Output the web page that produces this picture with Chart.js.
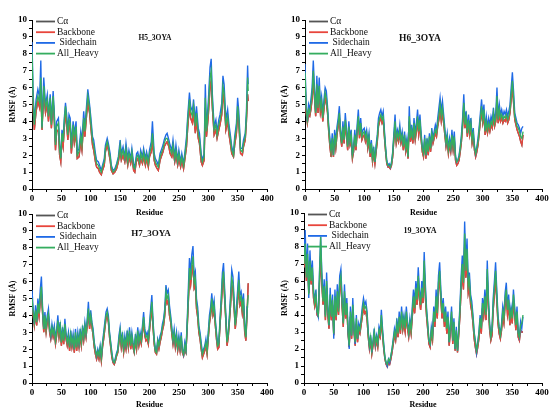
<!DOCTYPE html>
<html lang="en">
<head>
<meta charset="UTF-8">
<title>RMSF per residue</title>
<script src="https://cdn.jsdelivr.net/npm/chart.js"></script>
<style>
  html, body { margin: 0; padding: 0; background: #fff; overflow: hidden; }
  #page { position: relative; width: 550px; height: 408px; }
  #page canvas { position: absolute; }
</style>
</head>
<body>
<div id="page">
  <canvas id="h5" width="275" height="222" style="left:0;top:0"></canvas>
  <canvas id="h6" width="275" height="222" style="left:275px;top:0"></canvas>
  <canvas id="h7" width="275" height="212" style="left:0;top:200px"></canvas>
  <canvas id="p19" width="275" height="212" style="left:275px;top:200px"></canvas>
</div>
<script>
// series names, legend order
const seriesLabels = ['Cα', 'Backbone', ' Sidechain', 'All_Heavy'];
const panelNames = ['H5_3OYA', 'H6_3OYA', 'H7_3OYA', '19_3OYA'];
const xTicks = [0, 50, 100, 150, 200, 250, 300, 350, 400];
const yTicks = [0, 1, 2, 3, 4, 5, 6, 7, 8, 9, 10];

// H5 panel, read at peaks / troughs
const h5Residue = [0,2,4,7,10,13,15,17,20,23, 26,28,31,33,36,38,40,42,45,47, 49,51,53,55,57,59,61,63,65,67,
  70,72,75,77,80,83,85,88,90,93, 95,98,100,103,105,108,110,113,115,118, 120,123,125,128,130,133,135,138,141,144,
  147,150,152,155,158,160,163,165,168,170, 173,175,178,180,183,185,188,190,193,195, 198,200,203,205,208,210,213,215,218,220,
  223,225,228,230,233,235,238,240,243,245, 248,250,253,255,258,260,263,265,268,270, 273,275,278,280,283,285,288,290,293,295,
  297,300,303,305,307,310,313,315,318,320, 323,325,327,330,333,335,338,340,343,345, 348,350,352,355,358,360,363,365,367,368];
const h5Sidechain = [8.7,5.6,4.0,5.3,5.9,5.4,7.6,3.7,6.6,5.0, 5.6,4.4,5.6,4.0,5.8,4.5,2.8,4.0,4.2,2.6, 1.9,3.5,3.0,4.2,5.1,4.4,3.4,4.4,4.2,2.6,
  4.0,3.3,4.0,2.2,2.4,3.4,2.8,4.6,3.6,5.0, 5.9,5.0,4.3,3.1,2.9,2.1,1.7,1.6,1.4,1.1, 1.4,1.8,2.6,3.0,2.7,2.1,1.4,1.1,1.2,1.5,
  1.9,2.9,2.1,2.5,1.9,2.7,1.8,2.3,1.8,2.4, 1.5,1.3,2.1,2.2,1.7,2.3,1.9,2.4,1.8,2.2, 1.7,2.3,2.8,4.0,2.1,1.8,1.6,1.4,2.1,2.3,
  2.6,2.9,3.2,3.3,2.9,2.6,2.3,2.9,1.9,2.6, 1.7,2.3,1.6,2.1,1.5,2.1,3.1,4.3,5.7,4.9, 4.6,5.3,4.0,4.9,3.6,3.3,2.1,1.7,2.1,6.2,
  3.6,5.1,7.2,7.7,5.6,3.7,4.1,3.4,4.1,4.4, 5.1,6.7,6.2,4.1,4.7,3.9,3.1,2.5,2.1,3.1, 3.9,5.4,4.6,2.4,2.4,2.9,3.3,4.6,7.3,6.2];
const h5Heavy = [8.1,5.2,3.8,5.0,5.5,5.1,6.6,3.6,6.1,4.8, 5.3,4.3,5.4,3.8,5.5,4.3,2.6,3.7,3.9,2.4, 1.8,3.3,2.8,4.0,4.9,4.1,3.2,4.1,3.9,2.4,
  3.8,3.0,3.7,2.0,2.2,3.1,2.6,4.2,3.4,4.7, 5.5,4.8,4.0,2.9,2.6,1.9,1.5,1.4,1.2,1.0, 1.3,1.6,2.4,2.8,2.5,1.9,1.3,1.0,1.1,1.4,
  1.8,2.6,1.9,2.3,1.8,2.4,1.6,2.1,1.7,2.2, 1.3,1.2,1.9,2.0,1.6,2.1,1.7,2.2,1.6,2.0, 1.5,2.1,2.5,3.3,1.9,1.6,1.4,1.3,1.9,2.1,
  2.4,2.7,3.0,3.0,2.7,2.4,2.1,2.6,1.8,2.3, 1.6,2.1,1.5,1.9,1.4,1.9,2.8,4.0,5.3,4.6, 4.3,4.9,3.7,4.5,3.3,3.0,1.9,1.6,1.9,5.4,
  3.4,4.7,6.6,7.0,5.2,3.5,3.8,3.2,3.8,4.1, 4.7,6.1,5.7,3.8,4.3,3.6,2.9,2.3,2.0,2.9, 3.6,4.9,4.2,2.3,2.2,2.7,3.1,4.3,6.6,5.8];
const h5Backbone = [6.4,4.8,3.5,4.6,5.2,4.8,6.0,3.5,5.7,4.5, 5.0,4.0,5.1,3.6,5.2,4.0,2.3,3.4,3.5,2.0, 1.6,3.0,2.5,3.6,4.6,3.8,2.9,3.8,3.6,2.1,
  3.4,2.7,3.3,1.8,1.9,2.8,2.3,3.9,3.1,4.4, 5.1,4.5,3.7,2.6,2.3,1.6,1.3,1.2,1.0,0.85, 1.1,1.4,2.2,2.6,2.3,1.7,1.1,0.9,1.0,1.2,
  1.6,2.3,1.7,2.0,1.6,2.1,1.4,1.9,1.5,1.9, 1.1,1.0,1.7,1.8,1.4,1.8,1.5,1.9,1.4,1.8, 1.3,1.9,2.2,2.8,1.7,1.4,1.2,1.1,1.7,1.9,
  2.2,2.5,2.7,2.8,2.5,2.1,1.9,2.3,1.6,2.0, 1.4,1.8,1.3,1.7,1.2,1.7,2.5,3.6,4.9,4.2, 3.9,4.5,3.3,4.1,3.0,2.7,1.6,1.4,1.7,4.8,
  3.1,4.3,6.0,6.4,4.8,3.2,3.5,3.0,3.5,3.8, 4.4,5.6,5.2,3.5,4.0,3.3,2.6,2.1,1.9,2.6, 3.3,4.5,3.9,2.1,2.0,2.5,2.9,4.0,5.6,5.2];
// the Cα trace lies under the backbone trace everywhere in the figure
const h5CAlpha = h5Backbone;

// H6, H7 and 19 panels read every second residue
const residueEven = [0,2,4,6,8,10,12,14,16,18, 20,22,24,26,28,30,32,34,36,38, 40,42,44,46,48,50,52,54,56,58,
  60,62,64,66,68,70,72,74,76,78, 80,82,84,86,88,90,92,94,96,98, 100,102,104,106,108,110,112,114,116,118,
  120,122,124,126,128,130,132,134,136,138, 140,142,144,146,148,150,152,154,156,158, 160,162,164,166,168,170,172,174,176,178,
  180,182,184,186,188,190,192,194,196,198, 200,202,204,206,208,210,212,214,216,218, 220,222,224,226,228,230,232,234,236,238,
  240,242,244,246,248,250,252,254,256,258, 260,262,264,266,268,270,272,274,276,278, 280,282,284,286,288,290,292,294,296,298,
  300,302,304,306,308,310,312,314,316,318, 320,322,324,326,328,330,332,334,336,338, 340,342,344,346,348,350,352,354,356,358,
  360,362,364,366,368];

const h6Sidechain = [7.4,5.0,4.0,5.0,4.7,5.3,6.0,7.6,6.0,4.6, 6.7,5.0,6.6,5.0,5.5,4.4,5.3,6.0,5.8,4.9, 3.8,3.0,2.3,3.3,2.0,3.5,2.8,3.7,4.2,4.9,
  3.5,2.8,4.0,3.0,4.5,3.6,2.6,4.0,3.0,3.5, 2.0,2.5,3.5,2.6,3.8,4.7,3.4,4.2,3.3,3.5, 3.6,3.2,3.5,2.8,3.3,2.2,2.9,1.9,2.5,1.6,
  2.6,3.2,4.2,4.5,4.7,4.3,4.6,3.5,2.5,1.7, 1.4,1.5,1.3,1.6,2.2,3.3,4.4,3.0,3.5,3.2, 3.8,3.0,3.4,2.6,3.4,2.5,3.0,2.0,4.9,3.1,
  3.8,3.0,4.2,3.3,3.9,4.7,3.6,4.4,3.3,2.5, 2.2,3.2,2.0,3.0,2.3,3.3,2.5,3.6,3.0,3.4, 3.8,3.5,4.2,4.8,5.4,4.6,5.2,4.4,3.6,2.8,
  3.3,2.4,3.0,2.5,3.5,2.6,3.4,2.0,1.6,1.7, 2.0,2.5,3.2,4.2,5.6,4.0,4.6,3.5,4.4,3.6, 4.2,3.0,3.6,2.6,2.1,2.5,3.0,3.7,4.5,5.3,
  4.3,5.0,3.5,4.3,3.7,4.2,3.8,4.3,4.0,4.8, 4.1,4.5,6.0,4.3,5.0,4.4,4.7,4.3,4.6,4.4, 4.7,4.3,4.6,5.0,6.0,6.9,5.8,4.5,4.2,3.9,
  3.8,3.6,3.3,3.6,3.7];
const h6Heavy = [6.9,4.8,4.1,4.7,4.5,5.0,5.6,7.0,5.7,4.5, 6.2,4.8,6.1,4.8,5.2,4.2,5.0,5.7,5.4,4.7, 3.6,2.8,2.2,3.0,2.0,3.2,2.6,3.4,3.9,4.5,
  3.3,2.7,3.7,2.9,4.1,3.4,2.5,3.7,2.8,3.2, 2.0,2.4,3.2,2.5,3.5,4.3,3.2,3.9,3.1,3.3, 3.4,3.0,3.3,2.6,3.1,2.1,2.7,1.8,2.3,1.6,
  2.4,3.0,3.9,4.2,4.4,4.1,4.3,3.3,2.4,1.6, 1.4,1.4,1.3,1.5,2.1,3.1,4.0,2.9,3.3,3.0, 3.5,2.9,3.2,2.5,3.2,2.4,2.8,1.9,4.3,3.0,
  3.5,2.9,3.9,3.1,3.6,4.3,3.4,4.1,3.1,2.4, 2.1,3.0,2.0,2.8,2.2,3.1,2.4,3.3,2.9,3.2, 3.5,3.3,3.9,4.4,5.0,4.3,4.8,4.1,3.4,2.7,
  3.1,2.3,2.8,2.4,3.2,2.5,3.1,1.9,1.6,1.7, 1.9,2.4,3.0,3.9,5.1,3.8,4.3,3.3,4.1,3.4, 3.9,2.9,3.3,2.5,2.1,2.4,2.8,3.5,4.2,4.9,
  4.1,4.7,3.4,4.0,3.5,3.9,3.6,4.0,3.8,4.5, 3.9,4.2,5.5,4.1,4.7,4.2,4.4,4.1,4.3,4.2, 4.4,4.1,4.3,4.7,5.6,6.4,5.4,4.3,4.0,3.7,
  3.6,3.4,3.1,3.0,3.4];
const h6Backbone = [6.3,4.5,3.9,4.4,4.3,4.7,5.3,6.5,5.4,4.3, 5.8,4.5,5.7,4.5,4.9,4.0,4.7,5.4,5.1,4.5, 3.4,2.5,1.9,2.8,1.9,3.0,2.4,3.2,3.7,4.2,
  3.1,2.5,3.5,2.7,3.8,3.2,2.3,3.4,2.6,2.9, 1.8,2.2,3.0,2.3,3.3,4.0,3.0,3.7,2.9,3.1, 3.2,2.8,3.1,2.4,2.9,1.9,2.5,1.6,2.1,1.5,
  2.2,2.8,3.7,4.0,4.2,3.9,4.1,3.1,2.2,1.5, 1.3,1.3,1.2,1.4,1.9,2.9,3.7,2.7,3.1,2.8, 3.3,2.7,3.0,2.3,3.0,2.2,2.6,1.8,4.0,2.8,
  3.3,2.7,3.6,2.9,3.4,4.0,3.2,3.8,2.9,2.2, 1.9,2.8,1.8,2.6,2.0,2.9,2.2,3.1,2.7,3.0, 3.3,3.1,3.7,4.1,4.7,4.0,4.5,3.9,3.2,2.5,
  2.9,2.1,2.6,2.2,3.0,2.3,2.9,1.7,1.4,1.5, 1.7,2.2,2.8,3.7,4.8,3.6,4.1,3.1,3.9,3.2, 3.7,2.7,3.1,2.3,1.9,2.2,2.6,3.3,4.0,4.6,
  3.9,4.4,3.2,3.8,3.3,3.7,3.4,3.8,3.6,4.2, 3.7,4.0,5.2,3.9,4.4,4.0,4.2,3.9,4.1,4.0, 4.2,3.9,4.1,4.5,5.3,6.0,5.1,4.1,3.8,3.5,
  3.3,3.1,2.8,2.6,3.2];
const h6CAlpha = h6Backbone;

const h7Sidechain = [5.5,4.4,3.5,4.6,3.7,5.0,4.3,5.5,6.3,4.5, 3.2,4.2,3.3,4.0,4.4,3.3,2.8,3.5,3.0,3.4, 2.6,3.2,4.0,3.0,3.6,2.5,3.3,2.6,3.8,2.9,
  2.5,3.0,2.2,3.1,2.4,2.9,2.0,3.2,2.2,3.0, 2.4,3.2,2.5,3.4,2.8,3.6,3.0,3.8,4.8,3.5, 4.3,3.6,3.2,2.4,2.0,1.6,2.0,1.7,2.2,1.5,
  2.4,3.0,3.6,4.2,4.4,4.0,3.0,2.4,1.8,1.3, 1.2,1.5,1.8,2.0,2.8,3.3,2.4,3.0,2.0,2.8, 2.3,3.1,2.4,3.3,2.3,3.0,2.4,2.0,2.9,2.3,
  3.3,2.5,3.0,2.6,3.4,4.2,3.2,2.8,3.0,2.6, 3.5,4.4,5.2,3.7,2.6,2.0,1.9,2.6,2.3,2.8, 3.0,3.5,3.8,4.4,5.8,5.3,5.5,4.6,4.0,3.3,
  2.6,3.2,2.4,3.0,2.2,2.8,2.2,3.0,2.0,1.7, 2.4,2.0,3.5,5.5,7.4,6.5,7.6,8.1,6.3,6.6, 5.0,4.5,3.4,3.0,2.4,1.8,2.0,2.2,2.6,2.0,
  3.0,4.0,4.5,5.3,4.5,4.9,3.8,3.0,2.3,2.4, 3.8,5.0,6.5,7.1,5.5,4.0,2.5,3.0,4.0,5.2, 6.7,6.3,5.0,3.5,4.5,5.5,6.6,5.2,5.4,4.6,
  5.3,3.5,2.8,4.5,4.5];
const h7Heavy = [5.0,4.2,3.6,4.3,3.6,4.7,4.1,5.1,5.7,4.3, 3.2,4.0,3.2,3.8,4.1,3.2,2.8,3.3,2.9,3.2, 2.5,3.0,3.7,2.9,3.4,2.4,3.1,2.5,3.5,2.8,
  2.4,2.8,2.1,2.9,2.3,2.7,2.0,3.0,2.1,2.8, 2.3,3.0,2.4,3.2,2.7,3.4,2.9,3.6,4.4,3.4, 4.0,3.5,3.0,2.3,1.9,1.6,1.9,1.6,2.1,1.5,
  2.3,2.8,3.4,4.0,4.2,3.8,2.9,2.3,1.7,1.3, 1.2,1.4,1.7,1.9,2.6,3.1,2.3,2.8,2.0,2.6, 2.2,2.9,2.3,3.1,2.2,2.8,2.3,1.9,2.7,2.2,
  3.1,2.4,2.8,2.5,3.2,3.9,3.0,2.7,2.8,2.5, 3.3,4.1,4.8,3.5,2.5,1.9,1.8,2.5,2.2,2.6, 2.9,3.3,3.6,4.2,5.4,5.0,5.2,4.3,3.8,3.1,
  2.5,3.0,2.3,2.8,2.1,2.6,2.1,2.8,1.9,1.7, 2.2,1.9,3.3,5.0,6.8,6.1,7.0,7.5,5.9,6.2, 4.7,4.2,3.2,2.8,2.2,1.7,1.9,2.1,2.4,1.9,
  2.8,3.7,4.2,5.0,4.2,4.6,3.6,2.8,2.2,2.3, 3.6,4.7,6.1,6.6,5.2,3.8,2.4,2.9,3.8,4.9, 6.2,5.9,4.7,3.4,4.2,5.1,6.1,4.9,5.1,4.4,
  5.0,3.3,2.7,4.2,5.2];
const h7Backbone = [4.8,4.0,3.4,4.1,3.4,4.4,3.9,4.8,5.3,4.1, 3.0,3.8,3.0,3.6,3.9,3.0,2.6,3.1,2.7,3.0, 2.3,2.8,3.5,2.7,3.2,2.2,2.9,2.3,3.3,2.6,
  2.2,2.6,1.9,2.7,2.1,2.5,1.8,2.8,1.9,2.6, 2.1,2.8,2.2,3.0,2.5,3.2,2.7,3.4,4.1,3.2, 3.8,3.3,2.8,2.1,1.7,1.4,1.7,1.4,1.9,1.3,
  2.1,2.6,3.2,3.8,4.0,3.6,2.7,2.1,1.5,1.2, 1.1,1.3,1.6,1.8,2.4,2.9,2.1,2.6,1.8,2.4, 2.0,2.7,2.1,2.9,2.0,2.6,2.1,1.8,2.5,2.0,
  2.9,2.2,2.6,2.3,3.0,3.6,2.8,2.5,2.6,2.3, 3.1,3.8,4.5,3.3,2.3,1.8,1.7,2.3,2.0,2.4, 2.7,3.1,3.4,4.0,5.1,4.7,4.9,4.0,3.6,2.9,
  2.3,2.8,2.1,2.6,1.9,2.4,1.9,2.6,1.8,1.6, 2.0,1.8,3.1,4.7,6.3,5.8,6.5,7.0,5.6,5.8, 4.4,3.9,3.0,2.6,2.0,1.5,1.7,1.9,2.2,1.7,
  2.6,3.5,4.0,4.7,4.0,4.3,3.4,2.6,2.0,2.1, 3.4,4.4,5.7,6.2,4.9,3.6,2.2,2.7,3.6,4.6, 5.8,5.5,4.4,3.2,3.9,4.8,5.7,4.6,4.8,4.1,
  4.6,3.0,2.5,4.0,5.9];
const h7CAlpha = h7Backbone;

const p19Sidechain = [7.5,9.0,6.5,8.2,5.0,7.8,6.2,7.2,5.5,4.8, 5.5,4.2,3.9,6.5,8.6,6.5,5.0,6.1,4.0,6.5, 4.5,3.4,5.6,4.0,5.2,2.6,5.5,4.0,5.8,4.4,
  6.3,6.7,5.0,3.6,5.8,4.2,5.0,3.2,2.0,4.5, 2.8,5.0,3.3,2.3,4.0,2.6,3.5,3.2,3.8,4.5, 5.0,4.6,4.8,4.2,3.0,2.2,2.8,1.8,2.5,3.2,
  2.3,2.8,2.4,3.3,3.0,4.3,3.2,2.3,1.5,1.2, 1.0,1.4,1.2,1.6,2.0,2.6,3.2,2.8,3.8,3.0, 4.2,3.3,4.5,3.5,4.0,3.3,4.5,3.6,3.0,3.8,
  3.2,4.5,5.5,4.7,6.0,5.2,6.8,5.5,4.8,6.0, 5.3,7.7,5.8,4.4,3.5,2.5,2.3,3.3,2.8,4.5, 3.8,5.5,4.3,6.3,7.1,5.5,4.3,5.0,3.8,4.5,
  3.3,4.2,2.4,3.5,4.5,2.5,3.8,2.0,3.3,1.9, 3.2,4.5,6.2,7.5,6.3,9.5,7.0,8.5,6.0,6.5, 5.2,4.8,4.0,3.0,2.5,1.8,2.4,3.0,4.0,3.3,
  5.0,4.4,5.5,4.2,7.2,5.0,3.5,2.8,3.2,5.0, 6.0,7.1,5.5,4.0,3.3,2.9,3.5,4.5,4.0,5.3, 5.9,4.5,5.2,3.9,4.5,4.0,5.5,4.5,3.5,4.5,
  3.0,2.7,3.6,3.2,3.9];
const p19Heavy = [7.0,8.2,6.2,7.6,5.2,7.2,6.0,6.8,5.3,4.7, 5.2,4.2,4.0,6.2,8.6,6.1,4.8,5.7,3.9,6.0, 4.3,3.4,5.2,3.9,4.9,2.9,5.1,3.9,5.4,4.2,
  5.9,6.3,4.8,3.5,5.4,4.0,4.7,3.1,2.2,4.2, 2.8,4.6,3.2,2.4,3.8,2.6,3.3,3.1,3.6,4.2, 4.7,4.4,4.5,4.0,2.9,2.2,2.7,1.9,2.4,3.0,
  2.3,2.7,2.3,3.1,2.9,4.0,3.0,2.2,1.5,1.2, 1.1,1.4,1.3,1.6,2.0,2.5,3.0,2.7,3.5,2.9, 3.9,3.1,4.2,3.3,3.8,3.2,4.2,3.4,2.9,3.6,
  3.1,4.2,5.1,4.4,5.6,4.9,6.3,5.2,4.6,5.6, 5.0,7.2,5.4,4.2,3.4,2.5,2.3,3.1,2.7,4.2, 3.6,5.1,4.1,5.9,6.6,5.2,4.1,4.7,3.6,4.2,
  3.2,3.9,2.4,3.3,4.2,2.5,3.6,2.0,3.1,1.9, 3.0,4.2,5.8,7.0,5.9,8.8,6.6,7.9,5.7,6.1, 4.9,4.5,3.8,2.9,2.4,1.9,2.3,2.9,3.8,3.2,
  4.7,4.2,5.1,4.0,6.7,4.7,3.4,2.7,3.1,4.7, 5.6,6.6,5.2,3.8,3.2,2.8,3.3,4.2,3.8,5.0, 5.5,4.3,4.9,3.7,4.3,3.8,5.2,4.3,3.4,4.2,
  2.9,2.7,3.4,3.5,4.0];
const p19Backbone = [6.8,7.8,6.0,7.2,5.3,6.8,5.8,6.4,5.0,4.5, 4.9,4.0,3.9,5.8,7.5,5.8,4.6,5.3,3.7,5.6, 4.0,3.2,4.8,3.7,4.6,2.8,4.7,3.7,5.0,4.0,
  5.5,5.9,4.5,3.3,5.0,3.8,4.4,2.9,2.1,3.9, 2.6,4.3,3.0,2.2,3.5,2.4,3.1,2.9,3.4,3.9, 4.4,4.1,4.2,3.7,2.7,2.0,2.5,1.7,2.2,2.8,
  2.1,2.5,2.1,2.9,2.7,3.7,2.8,2.0,1.4,1.1, 0.95,1.2,1.1,1.4,1.8,2.3,2.8,2.5,3.3,2.7, 3.6,2.9,3.9,3.1,3.5,3.0,3.9,3.2,2.7,3.4,
  2.9,3.9,4.7,4.1,5.2,4.6,5.9,4.9,4.3,5.2, 4.7,6.7,5.0,3.9,3.1,2.3,2.1,2.9,2.5,3.9, 3.3,4.7,3.8,5.5,6.2,4.9,3.8,4.4,3.3,3.9,
  2.9,3.6,2.2,3.0,3.9,2.3,3.3,1.9,2.9,1.8, 2.8,3.9,5.4,6.5,5.5,8.0,6.2,7.3,5.3,5.7, 4.6,4.2,3.5,2.6,2.1,1.7,2.1,2.6,3.5,2.9,
  4.4,3.9,4.7,3.7,6.2,4.4,3.1,2.5,2.8,4.3, 5.2,6.2,4.8,3.5,2.9,2.6,3.1,3.9,3.5,4.6, 5.1,4.0,4.5,3.4,4.0,3.5,4.8,4.0,3.1,3.9,
  2.7,2.5,3.1,3.0,3.0];
const p19CAlpha = p19Backbone;

const seriesColors = ['#555555', '#e8463c', '#1f6ae6', '#35ad5f'];
const serif = '"Liberation Serif", "Times New Roman", serif';

function pts(xs, ys) {
  return ys.map((y, i) => ({ x: xs[i], y: y }));
}

const panelText = {
  id: 'panelText',
  afterDraw(chart, args, opts) {
    const ctx = chart.ctx;
    const a = chart.chartArea;
    ctx.save();
    ctx.font = '9.5px ' + serif;
    ctx.textBaseline = 'middle';
    ctx.textAlign = 'left';
    chart.data.datasets.forEach((ds, i) => {
      const y = a.top + 1.5 + i * 10.7;
      ctx.strokeStyle = ds.borderColor;
      ctx.lineWidth = 1.8;
      ctx.beginPath();
      ctx.moveTo(a.left + 4, y);
      ctx.lineTo(a.left + 23, y);
      ctx.stroke();
      ctx.fillStyle = '#111';
      ctx.fillText(ds.label, a.left + 25, y);
    });
    ctx.font = 'bold ' + opts.nameSize + 'px ' + serif;
    ctx.textAlign = 'center';
    ctx.fillStyle = '#111';
    ctx.fillText(opts.name, opts.nameX, opts.nameY);
    ctx.restore();
  }
};

function makePanel(p) {
  const series = [p.ca, p.bb, p.sc, p.hv];
  const datasets = series.map((ys, i) => ({
    label: seriesLabels[i],
    data: pts(p.res, ys),
    borderColor: seriesColors[i],
    borderWidth: 1.35,
    pointRadius: 0,
    tension: 0,
    order: 3 - i
  }));
  const tickFont = { family: serif, size: 9, weight: 'bold', lineHeight: 1.2 };
  new Chart(document.getElementById(p.id), {
    type: 'line',
    data: { datasets: datasets },
    options: {
      responsive: false,
      animation: false,
      events: [],
      layout: { padding: { top: p.padTop, right: 8, left: 0, bottom: 0 } },
      plugins: {
        legend: { display: false },
        tooltip: { enabled: false },
        panelText: { name: p.name, nameSize: p.nameSize, nameX: p.nameX, nameY: p.nameY }
      },
      scales: {
        x: {
          type: 'linear', min: 0, max: 400,
          afterBuildTicks: s => { s.ticks = []; for (let v = 0; v <= 400; v += 25) s.ticks.push({ value: v }); },
          ticks: {
            autoSkip: false, maxRotation: 0, padding: 1, color: '#000', font: tickFont,
            callback: v => xTicks.includes(v) ? v : ''
          },
          grid: { drawOnChartArea: false, drawTicks: true, tickLength: 3, tickColor: '#000', tickWidth: 1 },
          border: { color: '#000', width: 1 },
          title: {
            display: true, text: 'Residue', color: '#000',
            font: { family: serif, size: 8, weight: 'bold', lineHeight: 1.2 },
            padding: { top: 0, bottom: p.xTitlePad }
          },
          afterFit: s => { s.height = p.xHeight; }
        },
        y: {
          type: 'linear', min: 0, max: 10,
          afterBuildTicks: s => { s.ticks = []; for (let k = 0; k <= 20; k++) s.ticks.push({ value: k / 2 }); },
          ticks: {
            autoSkip: false, padding: 2, color: '#000', font: tickFont,
            callback: v => yTicks.includes(v) ? v : ''
          },
          grid: { drawOnChartArea: false, drawTicks: true, tickLength: 3, tickColor: '#000', tickWidth: 1 },
          border: { color: '#000', width: 1 },
          title: {
            display: true, text: 'RMSF (Å)', color: '#000',
            font: { family: serif, size: p.yTitleSize, weight: 'bold', lineHeight: 1.2 },
            padding: { top: p.yTitlePad, bottom: 0 }
          },
          afterFit: s => { s.width = p.yWidth; }
        }
      }
    },
    plugins: [panelText]
  });
}

makePanel({ id: 'h5', res: h5Residue, ca: h5CAlpha, bb: h5Backbone, sc: h5Sidechain, hv: h5Heavy,
  name: panelNames[0], nameSize: 7.5, nameX: 155, nameY: 38,
  padTop: 20, yWidth: 32, xHeight: 33, xTitlePad: 4, yTitleSize: 8, yTitlePad: 8 });
makePanel({ id: 'h6', res: residueEven, ca: h6CAlpha, bb: h6Backbone, sc: h6Sidechain, hv: h6Heavy,
  name: panelNames[1], nameSize: 9.5, nameX: 145, nameY: 39,
  padTop: 20, yWidth: 30, xHeight: 33, xTitlePad: 4, yTitleSize: 8.5, yTitlePad: 5 });
makePanel({ id: 'h7', res: residueEven, ca: h7CAlpha, bb: h7Backbone, sc: h7Sidechain, hv: h7Heavy,
  name: panelNames[2], nameSize: 9, nameX: 151, nameY: 34,
  padTop: 14, yWidth: 32, xHeight: 29, xTitlePad: 2, yTitleSize: 8, yTitlePad: 8 });
makePanel({ id: 'p19', res: residueEven, ca: p19CAlpha, bb: p19Backbone, sc: p19Sidechain, hv: p19Heavy,
  name: panelNames[3], nameSize: 8, nameX: 145, nameY: 31,
  padTop: 13, yWidth: 29, xHeight: 29, xTitlePad: 2, yTitleSize: 8, yTitlePad: 5 });
</script>
</body>
</html>
